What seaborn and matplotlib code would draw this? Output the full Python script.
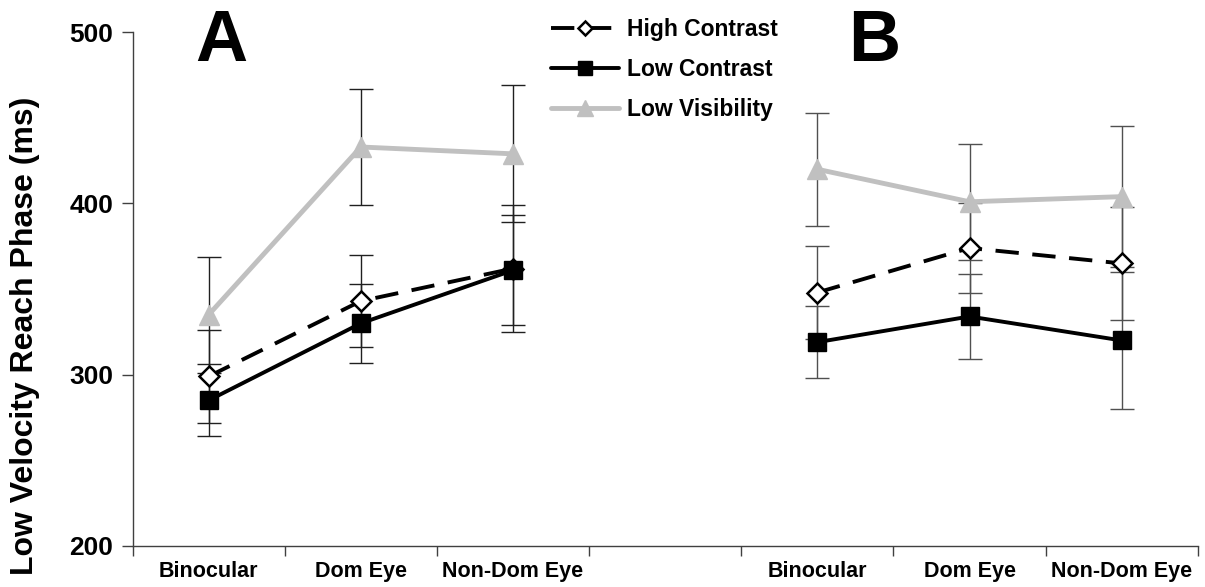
import numpy as np
import pandas as pd
import matplotlib
matplotlib.use("Agg")
import matplotlib.pyplot as plt
from matplotlib.lines import Line2D
import seaborn as sns

# ---- data ----
locations = ["Binocular", "Dom Eye", "Non-Dom Eye"]
panels = ["A", "B"]
conditions = ["High Contrast", "Low Contrast", "Low Visibility"]

hc_A = [299, 343, 362]
hc_A_err = [27, 27, 37]
lc_A = [285, 330, 361]
lc_A_err = [21, 23, 32]
lv_A = [335, 433, 429]
lv_A_err = [34, 34, 40]

hc_B = [348, 374, 365]
hc_B_err = [27, 26, 33]
lc_B = [319, 334, 320]
lc_B_err = [21, 25, 40]
lv_B = [420, 401, 404]
lv_B_err = [33, 34, 41]

yticks = [200, 300, 400, 500]
ylabel = "Low Velocity Reach Phase (ms)"

rows = []
vals = {("A", "High Contrast"): (hc_A, hc_A_err), ("A", "Low Contrast"): (lc_A, lc_A_err),
        ("A", "Low Visibility"): (lv_A, lv_A_err), ("B", "High Contrast"): (hc_B, hc_B_err),
        ("B", "Low Contrast"): (lc_B, lc_B_err), ("B", "Low Visibility"): (lv_B, lv_B_err)}
panel_offset = {"A": 0, "B": 4}
for (p, c), (v, e) in vals.items():
    for i, loc in enumerate(locations):
        rows.append(dict(panel=p, condition=c, location=loc, x=panel_offset[p] + i, value=v[i], err=e[i]))
df = pd.DataFrame(rows)

sns.set_theme(style="ticks")
plt.rcParams['font.family'] = ['Liberation Sans', 'DejaVu Sans']
plt.rcParams['text.color'] = 'black'
plt.rcParams['axes.labelcolor'] = 'black'
plt.rcParams['xtick.labelcolor'] = 'black'
plt.rcParams['ytick.labelcolor'] = 'black'

fig = plt.figure(figsize=(12.05, 5.87), dpi=100)
ax = fig.add_axes([0.110, 0.070, 0.884, 0.875])

styles = {
    "High Contrast": dict(color="black", marker="D", markersize=10, markerfacecolor="white",
                          markeredgecolor="black", markeredgewidth=1.8, lw=2.8, dashes=(6, 3.5), z=4),
    "Low Contrast": dict(color="black", marker="s", markersize=13, markerfacecolor="black",
                         markeredgecolor="black", markeredgewidth=1, lw=2.8, dashes=None, z=5),
    "Low Visibility": dict(color="#C0C0C0", marker="^", markersize=15, markerfacecolor="#C0C0C0",
                           markeredgecolor="#C0C0C0", markeredgewidth=1, lw=3.5, dashes=None, z=3),
}
ecolors = {"A": "#202020", "B": "#505050"}

for c in conditions:
    st = styles[c]
    for p in panels:
        sub = df[(df.condition == c) & (df.panel == p)]
        ax.errorbar(sub.x, sub.value, yerr=sub.err, fmt="none", ecolor=ecolors[p],
                    elinewidth=1.0, capsize=8.5, capthick=1.0, zorder=2)
        kw = dict(color=st["color"], marker=st["marker"], markersize=st["markersize"],
                  markerfacecolor=st["markerfacecolor"], markeredgecolor=st["markeredgecolor"],
                  markeredgewidth=st["markeredgewidth"], lw=st["lw"], zorder=st["z"])
        if st["dashes"] is not None:
            kw["dashes"] = st["dashes"]
        sns.lineplot(data=sub, x="x", y="value", ax=ax, legend=False, sort=False, **kw)

ax.set_xlim(-0.5, 6.5)
ax.set_ylim(200, 500)
ax.set_yticks(yticks)
ax.set_yticklabels([str(t) for t in yticks], fontsize=19, fontweight="bold")
centers = [0, 1, 2, 4, 5, 6]
ax.set_xticks(centers)
ax.set_xticklabels(locations + locations, fontsize=15.5, fontweight="bold")
ax.set_xticks(np.arange(-0.5, 7.0, 1.0), minor=True)
ax.tick_params(axis="x", which="major", length=0, pad=11)
ax.tick_params(axis="x", which="minor", length=7, width=1, color="#404040", direction="out")
ax.tick_params(axis="y", length=8, width=1, color="#404040", direction="out", pad=6)
ax.set_xlabel("")
ax.set_ylabel(ylabel, fontsize=23, fontweight="bold")
ax.yaxis.set_label_coords(-0.087, 0.41)
for s in ["top", "right"]:
    ax.spines[s].set_visible(False)
for s in ["left", "bottom"]:
    ax.spines[s].set_color("#404040")
    ax.spines[s].set_linewidth(1)

fig.text(221/1205, 1 - 42/587, "A", fontsize=52, fontweight="bold", va="center", ha="center")
fig.text(874/1205, 1 - 42/587, "B", fontsize=52, fontweight="bold", va="center", ha="center")

handles = []
for c in conditions:
    st = styles[c]
    h = Line2D([], [], color=st["color"], marker=st["marker"], markersize=st["markersize"] * 0.75,
               markerfacecolor=st["markerfacecolor"], markeredgecolor=st["markeredgecolor"],
               markeredgewidth=st["markeredgewidth"], lw=st["lw"])
    if st["dashes"] is not None:
        h.set_dashes(st["dashes"])
    handles.append(h)
leg = fig.legend(handles, conditions, loc="upper left", bbox_to_anchor=(530/1205, 1 + 3/587),
                 frameon=False, prop=dict(size=16.5, weight="bold"), handlelength=3.0,
                 labelspacing=0.75, handletextpad=0.35)

fig.savefig("out.png", dpi=100)
